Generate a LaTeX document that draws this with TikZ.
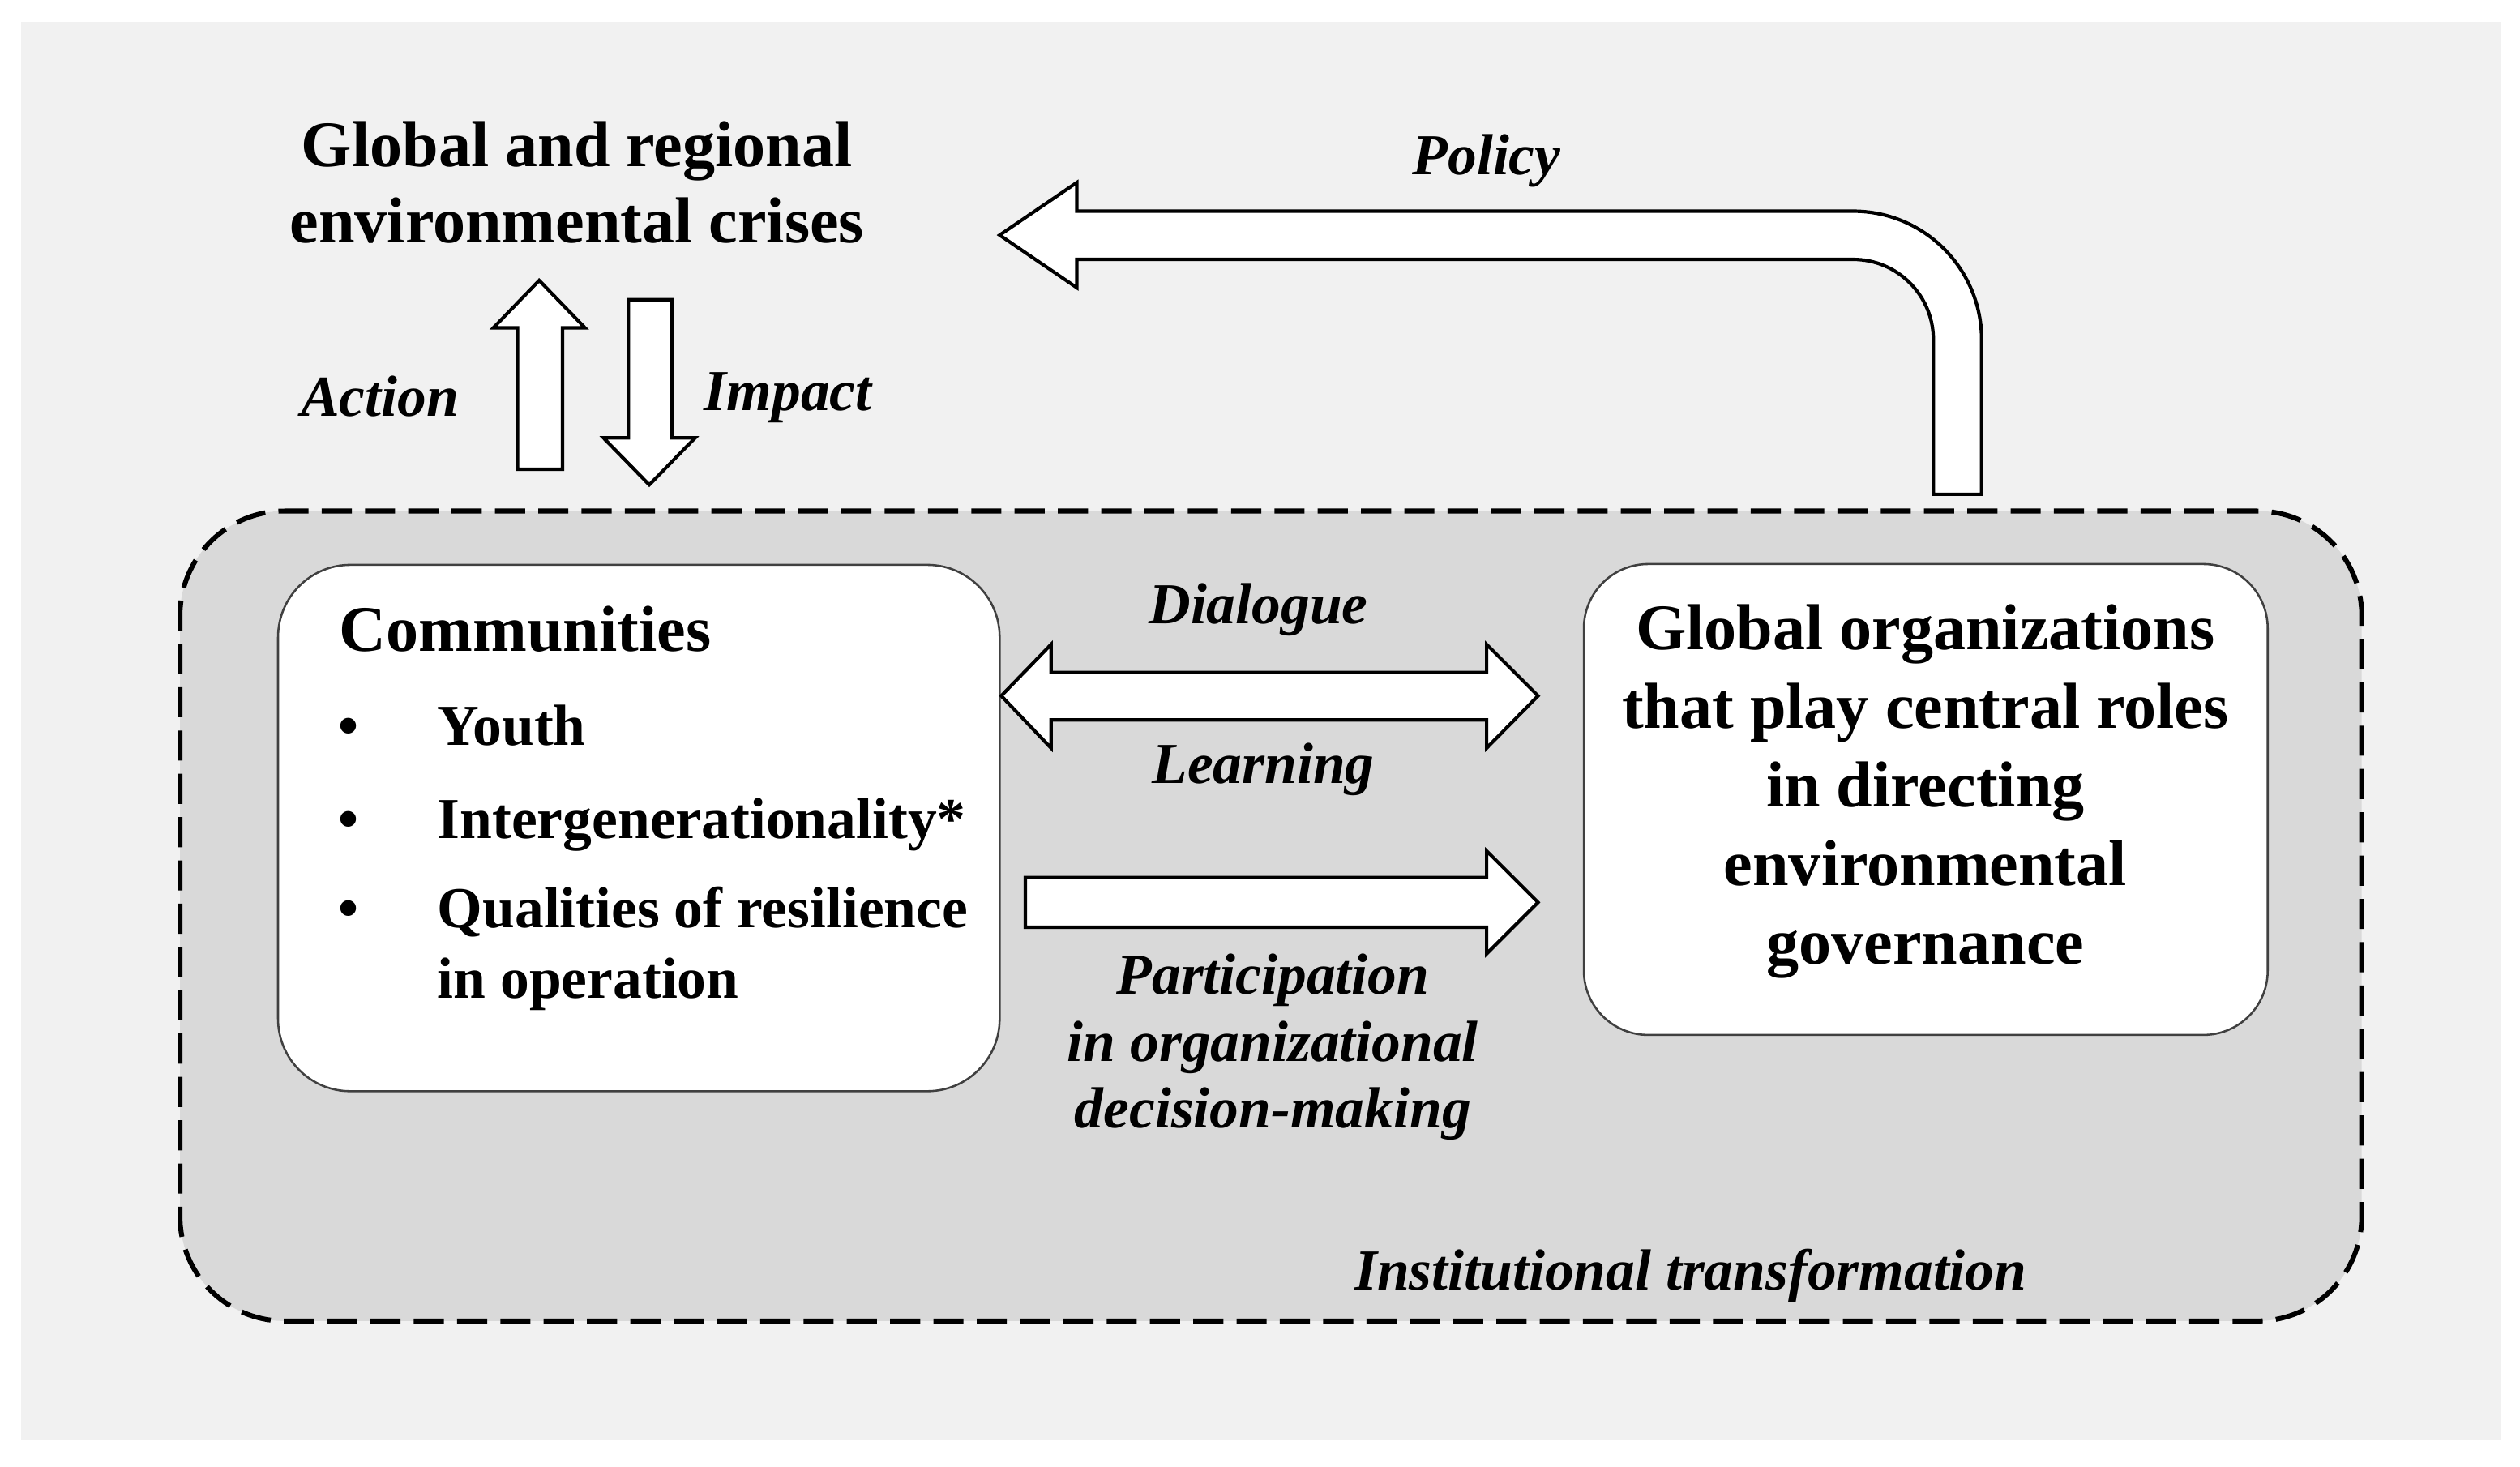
\documentclass[tikz,border=0pt]{standalone}
\usepackage{fontspec}
\setmainfont{Liberation Serif}
\definecolor{bgc}{HTML}{F1F1F1}
\definecolor{instgray}{HTML}{D9D9D9}
\definecolor{boxline}{HTML}{404040}
\begin{document}
\begin{tikzpicture}[x=0.3mm,y=-0.3mm,
  blockarrow/.style={draw=black, fill=white, line width=1.8pt, line join=miter},
  hdr/.style={font=\bfseries\fontsize{34.5}{41.8}\selectfont, inner sep=0pt},
  ttl/.style={font=\bfseries\fontsize{34.5}{40.4}\selectfont, inner sep=0pt},
  lbl/.style={font=\bfseries\itshape\fontsize{30.8}{35.5}\selectfont, inner sep=0pt},
  itm/.style={font=\bfseries\fontsize{30.8}{37.4}\selectfont, inner sep=0pt},
  whitebox/.style={draw=boxline, fill=white, line width=1.1pt, inner sep=0pt, outer sep=0pt}]
\useasboundingbox (0,0) rectangle (1568,912.8);
\fill[white] (0,0) rectangle (1568,912.8);
\fill[bgc] (13,13.5) rectangle (1556,896);

% institutional transformation region
\node[draw=black, fill=instgray, line width=2.6pt, dash pattern=on 16pt off 7pt,
      rounded corners=19.5mm, minimum width=407.25mm, minimum height=151.2mm,
      inner sep=0pt] (inst) at (790.75,570) {};

% boxes
\node[whitebox, rounded corners=13.5mm, minimum width=134.7mm, minimum height=98.25mm] (comm) at (397.5,515.25) {};
\node[whitebox, rounded corners=12mm, minimum width=127.65mm, minimum height=87.9mm] (org) at (1198.25,497.5) {};

% title (base anchor = baseline of last line)
\node[ttl, align=center, anchor=base] (crises) at (359,151) {Global and regional\\environmental crises};

% communities text
\node[hdr, anchor=base west] (commhead) at (211,405) {Communities};
\node[itm, anchor=base] (b1) at (217,463.5) {•};
\node[itm, anchor=base west] (youth) at (272,463.5) {Youth};
\node[itm, anchor=base] (b2) at (217,521.5) {•};
\node[itm, anchor=base west] (inter) at (272,521.5) {Intergenerationality*};
\node[itm, anchor=base] (b3) at (217,577) {•};
\node[itm, anchor=base west, align=left] (qual) at (272,621) {Qualities of resilience\\in operation};

% organizations text
\node[hdr, align=center, anchor=base] (orgtext) at (1198,600) {Global organizations\\that play central roles\\in directing\\environmental\\governance};

% labels
\node[lbl, anchor=base] (policy) at (925,108.5) {Policy};
\node[lbl, anchor=base east] (action) at (285.6,259) {Action};
\node[lbl, anchor=base west] (impact) at (438,255.6) {Impact};
\node[lbl, anchor=base] (dialogue) at (783,388) {Dialogue};
\node[lbl, anchor=base] (learning) at (786,487.5) {Learning};
\node[lbl, anchor=base, align=center] (particip) at (792,702) {Participation\\in organizational\\decision-making};
\node[lbl, anchor=base] (insttext) at (1052,802.5) {Institutional transformation};

% Action (up) arrow
\draw[blockarrow] (322,292) -- (322,204) -- (307,204) -- (335.5,174.5) -- (364,204) -- (350,204) -- (350,292) -- cycle;
% Impact (down) arrow
\draw[blockarrow] (391,186.5) -- (391,272.5) -- (375.5,272.5) -- (404,301.7) -- (432.5,272.5) -- (418,272.5) -- (418,186.5) -- cycle;

% Policy arrow
\draw[blockarrow] (1203,307.6) -- (1203,211.4) .. controls (1203,183.8) and (1180.6,161.4) .. (1153,161.4)
  -- (670,161.4) -- (670,179) -- (622,146.3) -- (670,113.6) -- (670,131.4) -- (1153,131.4)
  .. controls (1197.2,131.4) and (1233,167.2) .. (1233,211.4) -- (1233,307.6) -- cycle;

% Dialogue / Learning double arrow
\draw[blockarrow] (623,433) -- (654,401) -- (654,418.5) -- (925,418.5) -- (925,401) -- (957,433)
  -- (925,465.5) -- (925,448) -- (654,448) -- (654,465.5) -- cycle;

% Participation arrow
\draw[blockarrow] (638,546) -- (925,546) -- (925,529.5) -- (957,561.5) -- (925,593.5) -- (925,577) -- (638,577) -- cycle;
\end{tikzpicture}
\end{document}
